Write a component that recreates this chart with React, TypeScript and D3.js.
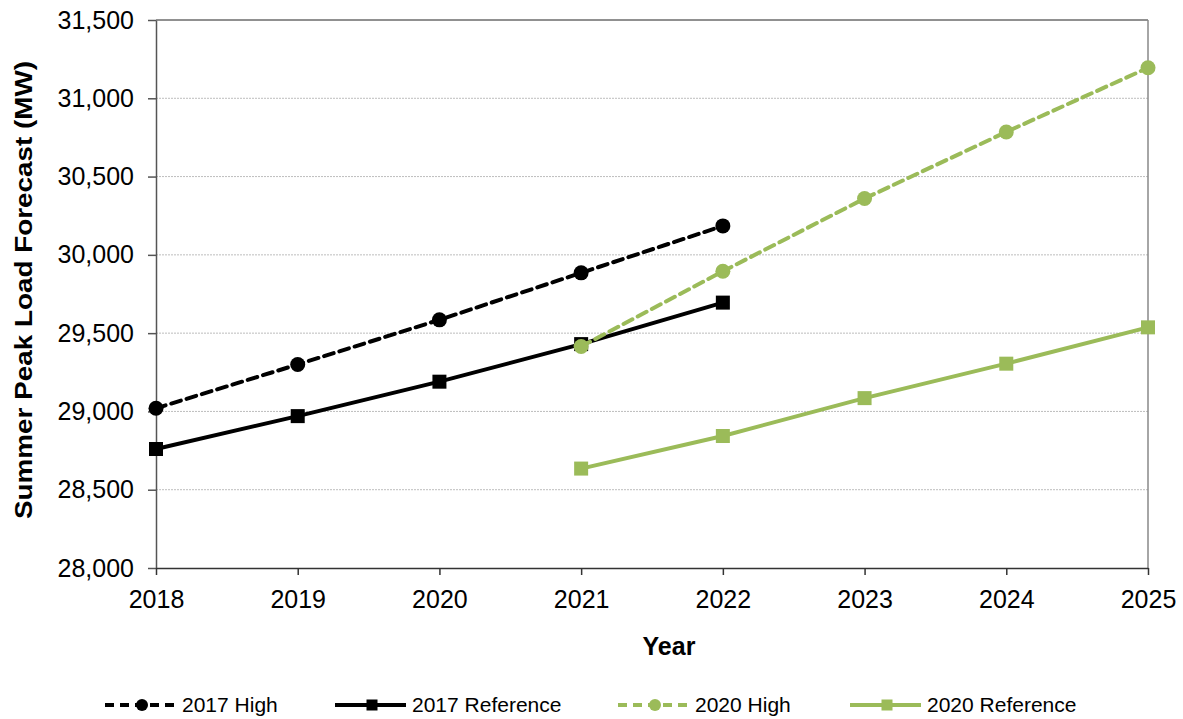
import { useEffect, useRef } from 'react';
import * as d3 from 'd3';

const years = [2018, 2019, 2020, 2021, 2022, 2023, 2024, 2025];
const yTicks = [28000, 28500, 29000, 29500, 30000, 30500, 31000, 31500];

const high2017Years = [2018, 2019, 2020, 2021, 2022];
const high2017 = [29020, 29300, 29585, 29885, 30185];
const ref2017Years = [2018, 2019, 2020, 2021, 2022];
const ref2017 = [28760, 28970, 29190, 29430, 29695];
const high2020Years = [2021, 2022, 2023, 2024, 2025];
const high2020 = [29415, 29895, 30360, 30785, 31195];
const ref2020Years = [2021, 2022, 2023, 2024, 2025];
const ref2020 = [28635, 28843, 29085, 29305, 29537];

const GREEN = '#9BBB59';

const series = [
  { name: '2017 High', xs: high2017Years, ys: high2017, color: '#000', dash: '10,6', marker: 'circle' },
  { name: '2017 Reference', xs: ref2017Years, ys: ref2017, color: '#000', dash: null, marker: 'square' },
  { name: '2020 High', xs: high2020Years, ys: high2020, color: GREEN, dash: '10,6', marker: 'circle' },
  { name: '2020 Reference', xs: ref2020Years, ys: ref2020, color: GREEN, dash: null, marker: 'square' },
];

const App = () => {
  const ref = useRef<SVGSVGElement>(null);
  const width = 1183;
  const height = 719;
  const margin = { left: 156, right: 35, top: 20, bottom: 151 };

  useEffect(() => {
    if (!ref.current) return;
    const svg = d3.select(ref.current);
    svg.selectAll('*').remove();
    const font = '"Liberation Sans", Arial, sans-serif';

    const x = d3
      .scaleLinear()
      .domain([2018, 2025])
      .range([margin.left, width - margin.right]);
    const y = d3
      .scaleLinear()
      .domain([28000, 31500])
      .range([height - margin.bottom, margin.top]);

    // gridlines
    svg
      .append('g')
      .selectAll('line')
      .data(yTicks.slice(1, -1))
      .enter()
      .append('line')
      .attr('x1', margin.left)
      .attr('x2', width - margin.right)
      .attr('y1', (d) => y(d))
      .attr('y2', (d) => y(d))
      .attr('stroke', '#bdbdbd')
      .attr('stroke-width', 1)
      .attr('stroke-dasharray', '2,1');

    // plot border top/right
    svg
      .append('line')
      .attr('x1', margin.left)
      .attr('x2', width - margin.right)
      .attr('y1', y(31500))
      .attr('y2', y(31500))
      .attr('stroke', '#222')
      .attr('stroke-width', 1);
    svg
      .append('line')
      .attr('x1', width - margin.right)
      .attr('x2', width - margin.right)
      .attr('y1', y(31500))
      .attr('y2', y(28000))
      .attr('stroke', '#888')
      .attr('stroke-width', 1.5);

    // y axis
    const yAxis = svg
      .append('g')
      .attr('transform', `translate(${margin.left},0)`)
      .call(
        d3
          .axisLeft(y)
          .tickValues(yTicks)
          .tickSize(8)
          .tickSizeOuter(0)
          .tickFormat((d) => d3.format(',')(d as number)),
      );
    yAxis.select('.domain').attr('stroke', '#555').attr('stroke-width', 1.5);
    yAxis.selectAll('line').attr('stroke', '#555').attr('stroke-width', 1.5);
    yAxis
      .selectAll('text')
      .attr('font-family', font)
      .attr('font-size', 25)
      .attr('fill', '#000')
      .attr('x', -22);

    // x axis
    const xAxis = svg
      .append('g')
      .attr('transform', `translate(0,${height - margin.bottom})`)
      .call(
        d3
          .axisBottom(x)
          .tickValues(years)
          .tickSize(7)
          .tickSizeOuter(0)
          .tickFormat((d) => String(d)),
      );
    xAxis.select('.domain').attr('stroke', '#333').attr('stroke-width', 1.5);
    xAxis.selectAll('line').attr('stroke', '#333').attr('stroke-width', 1.5);
    xAxis
      .selectAll('text')
      .attr('font-family', font)
      .attr('font-size', 25)
      .attr('fill', '#000')
      .attr('dy', null)
      .attr('y', 40);

    // axis titles
    svg
      .append('text')
      .attr('x', 669)
      .attr('y', 655)
      .attr('text-anchor', 'middle')
      .attr('font-family', font)
      .attr('font-weight', 'bold')
      .attr('font-size', 25)
      .text('Year');
    svg
      .append('text')
      .attr('transform', `translate(32,${(margin.top + height - margin.bottom) / 2 - 4}) rotate(-90)`)
      .attr('text-anchor', 'middle')
      .attr('font-family', font)
      .attr('font-weight', 'bold')
      .attr('font-size', 24)
      .attr('textLength', 458)
      .attr('lengthAdjust', 'spacingAndGlyphs')
      .text('Summer Peak Load Forecast (MW)');

    const line = d3
      .line<[number, number]>()
      .x((d) => x(d[0]))
      .y((d) => y(d[1]));

    const drawMarker = (g: any, type: string, cx: number, cy: number, color: string, big: boolean) => {
      if (type === 'circle') {
        g.append('circle')
          .attr('cx', cx)
          .attr('cy', cy)
          .attr('r', big ? 7.5 : 6)
          .attr('fill', color);
      } else {
        const s = big ? 14 : 11;
        g.append('rect')
          .attr('x', cx - s / 2)
          .attr('y', cy - s / 2)
          .attr('width', s)
          .attr('height', s)
          .attr('fill', color);
      }
    };

    series.forEach((s) => {
      const pts = s.xs.map((xv, i) => [xv, s.ys[i]] as [number, number]);
      const g = svg.append('g');
      g.append('path')
        .attr('d', line(pts))
        .attr('fill', 'none')
        .attr('stroke', s.color)
        .attr('stroke-width', 4)
        .attr('stroke-dasharray', s.dash)
        .attr('stroke-linecap', s.dash ? 'round' : 'butt');
      pts.forEach((p) => drawMarker(g, s.marker, x(p[0]), y(p[1]), s.color, true));
    });

    // legend
    const legendX = [105, 335, 618, 850];
    const ly = 705;
    series.forEach((s, i) => {
      const g = svg.append('g');
      const x0 = legendX[i];
      g.append('line')
        .attr('x1', x0)
        .attr('x2', x0 + 71)
        .attr('y1', ly)
        .attr('y2', ly)
        .attr('stroke', s.color)
        .attr('stroke-width', 4)
        .attr('stroke-dasharray', s.dash ? '9,6' : null);
      drawMarker(g, s.marker, x0 + 37, ly, s.color, false);
      g.append('text')
        .attr('x', x0 + 77)
        .attr('y', ly + 7)
        .attr('font-family', font)
        .attr('font-size', 21)
        .text(s.name);
    });
  }, []);

  return (
    <div>
      <svg
        ref={ref}
        width={width}
        height={height}
        style={{ display: 'block', position: 'absolute', left: 0, top: 0 }}
      />
    </div>
  );
};

export default App;
